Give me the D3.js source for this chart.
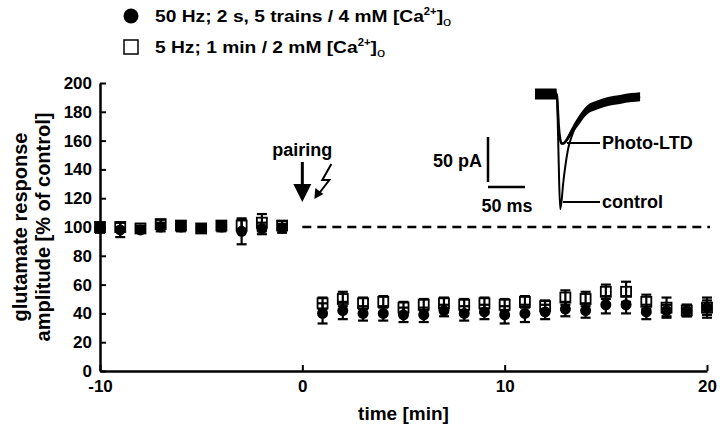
<!DOCTYPE html>
<html>
<head>
<meta charset="utf-8">
<script src="https://cdn.jsdelivr.net/npm/d3@7"></script>
<style>
  body { margin: 0; background: #fff; }
  svg text { font-family: "Liberation Sans", Arial, sans-serif; font-weight: bold; fill: #000; }
</style>
</head>
<body>
<div id="chart"></div>
<script>
// time course (minutes relative to pairing)
const minutes = [-10, -9, -8, -7, -6, -5, -4, -3, -2, -1,
                 1, 2, 3, 4, 5, 6, 7, 8, 9, 10, 11, 12, 13, 14, 15, 16, 17, 18, 19, 20];

// 50 Hz; 2 s, 5 trains / 4 mM Ca (filled circles)
const trainMean = [99, 98, 98, 100, 100, 99, 100, 97, 99, 99,
                   40, 42, 40, 40, 39, 39, 42, 40, 41, 39, 40, 41, 43, 42, 46, 46, 41, 42, 42, 44];
const trainErr  = [3, 5, 2, 3, 3, 2, 3, 9, 4, 3,
                   7, 6, 5, 5, 5, 5, 4, 5, 5, 6, 6, 5, 5, 5, 6, 6, 5, 4, 4, 5];

// 5 Hz; 1 min / 2 mM Ca (open squares)
const lowMean = [100, 100, 99, 102, 101, 99, 101, 101, 103, 101,
                 47, 50, 47, 48, 44, 46, 47, 46, 47, 46, 48, 45, 51, 50, 55, 55, 48, 44, 42, 44];
const lowErr  = [3, 3, 2, 3, 3, 2, 3, 4, 6, 3,
                 4, 5, 4, 4, 4, 4, 4, 4, 4, 4, 4, 4, 5, 5, 5, 7, 5, 7, 4, 7];

const yTicks = [0, 20, 40, 60, 80, 100, 120, 140, 160, 180, 200];
const xTicks = [-10, 0, 10, 20];
const controlLevel = 100;
const pairingTime = 0;

// inset: example currents (ms, pA)
const traceMs      = [0, 15, 29, 30, 31, 32, 34, 36, 38, 41, 45, 50, 57, 70, 85, 100, 115, 130, 142];
const traceControl = [0, 0, 0, -8, -40, -75, -128, -118, -100, -80, -60, -46, -32, -18, -12, -8, -6, -4, -3];
const tracePhoto   = [0, 0, 0, -5, -20, -35, -50, -55, -55, -53, -48, -41, -32, -18, -12, -8, -6, -4, -3];
const traceNoise   = [6, 6, 6, 2, 1, 1, 1, 1, 1, 2, 3, 4, 5, 5, 5, 5, 5, 5, 5];
const scaleBarMs = 50,
      scaleBarPa = 50;

function timeCourseChart() {

  let width = 720,
      height = 435,
      margin = {top: 83, left: 100, bottom: 64, right: 13},
      axisWidth = 2.5,
      markerRadius = 5.5,
      squareSize = 10,
      capWidth = 10;

  let svg, x, y;

  function chart(selection) {
    selection.each(function() {
      svg = d3.select(this)
        .append('svg')
        .attr('width', width)
        .attr('height', height);

      x = d3.scaleLinear()
        .domain([-10, 20])
        .range([margin.left, width - margin.right]);

      y = d3.scaleLinear()
        .domain([0, 200])
        .range([height - margin.bottom, margin.top]);

      draw();
    });
  }

  // #region Chart drawing

  function draw() {
    drawAxes();
    drawControlLine();
    drawPairing();
    drawSeries();
    drawLegend();
    drawInset();
  }

  function drawAxes() {
    let yAxis = svg.append('g')
      .attr('transform', `translate(${margin.left},0)`)
      .call(d3.axisLeft(y).tickValues(yTicks).tickFormat(d => String(d))
        .tickSizeInner(-6).tickSizeOuter(0).tickPadding(8));

    let xAxis = svg.append('g')
      .attr('transform', `translate(0,${y(0)})`)
      .call(d3.axisBottom(x).tickValues(xTicks).tickFormat(d => String(d))
        .tickSizeInner(-6).tickSizeOuter(0).tickPadding(9));

    [yAxis, xAxis].forEach(axis => {
      axis.select('.domain').attr('stroke-width', axisWidth);
      axis.selectAll('.tick line').attr('stroke-width', 2);
      axis.selectAll('.tick text').style('font-size', '17px');
    });

    svg.append('text')
      .attr('x', x(5))
      .attr('y', 420)
      .attr('text-anchor', 'middle')
      .style('font-size', '19px')
      .text('time [min]');

    let title = svg.append('text')
      .attr('transform', `translate(27,${y(100)}) rotate(-90)`)
      .attr('text-anchor', 'middle')
      .style('font-size', '20px');

    title.append('tspan').attr('x', 0).attr('dy', 0).text('glutamate response');
    title.append('tspan').attr('x', 0).attr('dy', 23).text('amplitude [% of control]');
  }

  function drawControlLine() {
    svg.append('line')
      .attr('x1', x(pairingTime))
      .attr('x2', x(20) + 3)
      .attr('y1', y(controlLevel))
      .attr('y2', y(controlLevel))
      .attr('stroke', '#000')
      .attr('stroke-width', 2.5)
      .attr('stroke-dasharray', '9,6');
  }

  function drawPairing() {
    let px = x(pairingTime);

    svg.append('text')
      .attr('x', px)
      .attr('y', 156)
      .attr('text-anchor', 'middle')
      .style('font-size', '18px')
      .text('pairing');

    svg.append('line')
      .attr('x1', px).attr('x2', px)
      .attr('y1', 162).attr('y2', 186)
      .attr('stroke', '#000')
      .attr('stroke-width', 3);

    svg.append('path')
      .attr('d', `M${px - 9},184 L${px + 9},184 L${px},202 Z`)
      .attr('fill', '#000');

    // stimulation flash
    svg.append('path')
      .attr('d', `M${px + 29},164 L${px + 20},180 L${px + 27},180 L${px + 17},193`)
      .attr('fill', 'none')
      .attr('stroke', '#000')
      .attr('stroke-width', 2);

    svg.append('path')
      .attr('d', `M${px + 12},199 L${px + 13},188 L${px + 21},194 Z`)
      .attr('fill', '#000');
  }

  function drawSeries() {
    let low = minutes.map((t, i) => ({t: t, v: lowMean[i], e: lowErr[i]}));
    let train = minutes.map((t, i) => ({t: t, v: trainMean[i], e: trainErr[i]}));

    svg.append('g')
      .selectAll('rect')
      .data(low)
      .enter()
      .append('rect')
      .attr('x', d => x(d.t) - squareSize / 2)
      .attr('y', d => y(d.v) - squareSize / 2)
      .attr('width', squareSize)
      .attr('height', squareSize)
      .attr('fill', '#fff')
      .attr('stroke', '#000')
      .attr('stroke-width', 1.8);

    svg.append('g')
      .selectAll('circle')
      .data(train)
      .enter()
      .append('circle')
      .attr('cx', d => x(d.t))
      .attr('cy', d => y(d.v))
      .attr('r', markerRadius)
      .attr('fill', '#000');

    [low, train].forEach(series => drawErrorBars(series));
  }

  function drawErrorBars(series) {
    let bars = svg.append('g')
      .attr('stroke', '#000')
      .attr('stroke-width', 2.2)
      .selectAll('g')
      .data(series)
      .enter()
      .append('g');

    bars.append('line')
      .attr('x1', d => x(d.t)).attr('x2', d => x(d.t))
      .attr('y1', d => y(d.v - d.e)).attr('y2', d => y(d.v + d.e));

    [-1, 1].forEach(sign => {
      bars.append('line')
        .attr('x1', d => x(d.t) - capWidth / 2)
        .attr('x2', d => x(d.t) + capWidth / 2)
        .attr('y1', d => y(d.v + sign * d.e))
        .attr('y2', d => y(d.v + sign * d.e));
    });
  }

  function drawLegend() {
    let legend = svg.append('g');

    legend.append('circle')
      .attr('cx', 131).attr('cy', 16).attr('r', 7.5)
      .attr('fill', '#000');

    legend.append('rect')
      .attr('x', 124).attr('y', 40).attr('width', 14).attr('height', 14)
      .attr('fill', '#fff')
      .attr('stroke', '#000')
      .attr('stroke-width', 1.5);

    let rows = [
      {y: 22, label: '50 Hz; 2 s, 5 trains / 4 mM [Ca'},
      {y: 53, label: '5 Hz; 1 min / 2 mM [Ca'}
    ];

    // the original lettering is wide and flat, so stretch it sideways
    rows.forEach(row => {
      let t = legend.append('text')
        .attr('transform', `translate(155,${row.y}) scale(1.13,1)`)
        .style('font-size', '17px');
      t.append('tspan').text(row.label);
      t.append('tspan').attr('dy', -7).style('font-size', '10px').text('2+');
      t.append('tspan').attr('dy', 7).text(']');
      t.append('tspan').attr('dy', 4).style('font-size', '13px').style('font-weight', 'normal').text('o');
    });
  }

  function drawInset() {
    let tx = d3.scaleLinear()
      .domain([0, 150])
      .range([535, 646]);

    let ty = d3.scaleLinear()
      .domain([0, -150])
      .range([94, 229]);

    let points = traceMs.map((t, i) => ({t: t, c: traceControl[i], p: tracePhoto[i], n: traceNoise[i]}));

    let noise = d3.area()
      .x(d => tx(d.t))
      .y0(d => ty(d.p - d.n))
      .y1(d => ty(d.p + d.n))
      .curve(d3.curveMonotoneX);

    svg.append('path')
      .datum(points)
      .attr('d', noise)
      .attr('fill', '#000');

    let controlLine = d3.line()
      .x(d => tx(d.t))
      .y(d => ty(d.c))
      .curve(d3.curveMonotoneX);

    let photoLine = d3.line()
      .x(d => tx(d.t))
      .y(d => ty(d.p))
      .curve(d3.curveMonotoneX);

    svg.append('path')
      .datum(points)
      .attr('d', controlLine)
      .attr('fill', 'none')
      .attr('stroke', '#000')
      .attr('stroke-width', 2);

    svg.append('path')
      .datum(points)
      .attr('d', photoLine)
      .attr('fill', 'none')
      .attr('stroke', '#000')
      .attr('stroke-width', 2.5);

    // scale bars
    let barX = 488,
        barTop = 137,
        barLen = ty(-scaleBarPa) - ty(0),
        msLen = tx(scaleBarMs) - tx(0);

    svg.append('line')
      .attr('x1', barX).attr('x2', barX)
      .attr('y1', barTop).attr('y2', barTop + barLen)
      .attr('stroke', '#000').attr('stroke-width', 2.5);

    svg.append('line')
      .attr('x1', barX).attr('x2', barX + msLen)
      .attr('y1', 187).attr('y2', 187)
      .attr('stroke', '#000').attr('stroke-width', 2.5);

    svg.append('text')
      .attr('x', 482).attr('y', 167)
      .attr('text-anchor', 'end')
      .style('font-size', '18px')
      .text(scaleBarPa + ' pA');

    svg.append('text')
      .attr('x', 507).attr('y', 212)
      .attr('text-anchor', 'middle')
      .style('font-size', '18px')
      .text(scaleBarMs + ' ms');

    // trace labels
    let labels = [
      {x1: 567, y: 143, text: 'Photo-LTD'},
      {x1: 563, y: 202, text: 'control'}
    ];

    labels.forEach(l => {
      svg.append('line')
        .attr('x1', l.x1).attr('x2', 600)
        .attr('y1', l.y).attr('y2', l.y)
        .attr('stroke', '#000').attr('stroke-width', 2);

      svg.append('text')
        .attr('x', 602).attr('y', l.y + 6)
        .style('font-size', '18px')
        .text(l.text);
    });
  }

  // #endregion

  return chart;
}

let chart = timeCourseChart();
d3.select('#chart').call(chart);
</script>
</body>
</html>
